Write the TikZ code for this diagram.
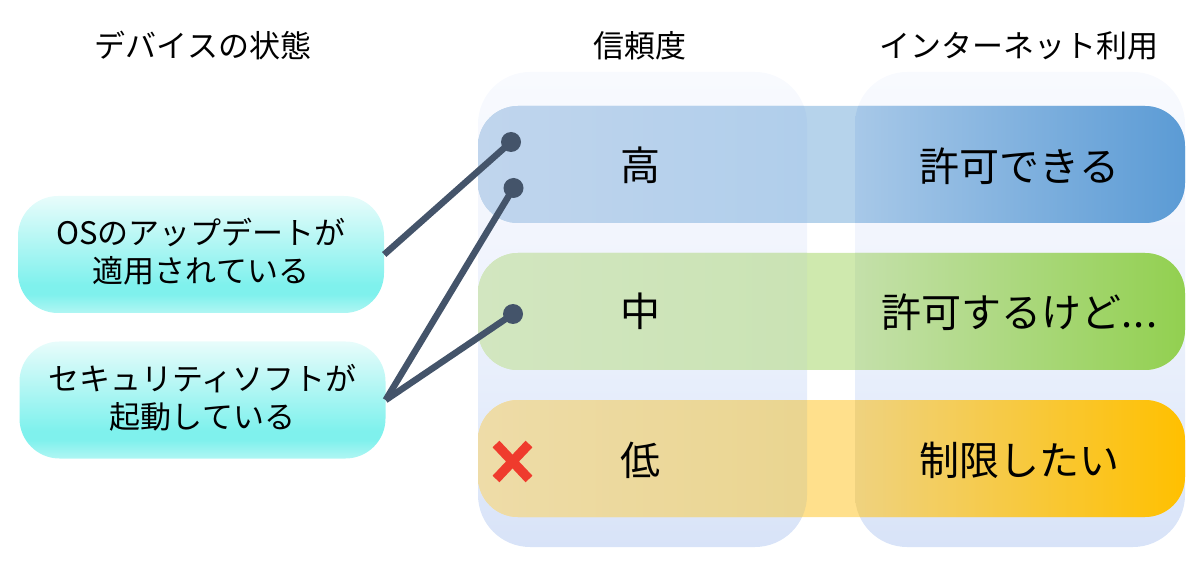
\documentclass[tikz,border=0pt]{standalone}
\usepackage{fontspec}
\setmainfont{Noto Sans CJK JP}
\definecolor{boxtop}{HTML}{E8FCFB}
\definecolor{boxmid}{HTML}{7FF1ED}
\definecolor{boxbot}{HTML}{B0F6F3}
\pgfdeclareverticalshading{boxshade}{100bp}{
  color(0bp)=(boxbot); color(25bp)=(boxbot); color(33bp)=(boxmid); color(37bp)=(boxmid);
  color(75bp)=(boxtop); color(100bp)=(boxtop)}
\definecolor{coltop}{HTML}{F8FAFE}
\definecolor{colmida}{HTML}{F2F5FD}
\definecolor{colmidb}{HTML}{E7EEFB}
\definecolor{colbot}{HTML}{D8E3F8}
\pgfdeclareverticalshading{colshade}{100bp}{
  color(0bp)=(colbot); color(25bp)=(colbot); color(42bp)=(colmidb); color(57.5bp)=(colmida);
  color(75bp)=(coltop); color(100bp)=(coltop)}
\definecolor{wire}{HTML}{44546A}
\definecolor{crossred}{HTML}{EF3B2D}
\definecolor{gapblue}{HTML}{B6D3EB}
\definecolor{gapgreen}{HTML}{CFE9AE}
\definecolor{gaporange}{HTML}{FFE08C}
\tikzset{
  headtext/.style={inner sep=0pt,font=\fontsize{31}{36}\selectfont},
  celltext/.style={inner sep=0pt,font=\fontsize{40}{44}\selectfont},
  statebox/.style={rounded corners=40pt,shading=boxshade,minimum width=366pt,minimum height=117pt,
    inner sep=0pt,align=center,font=\fontsize{31}{38}\selectfont},
  colpanel/.style={shading=colshade,rounded corners=52pt},
  wireline/.style={draw=wire,line width=6.5pt},
  wiredot/.style={circle,fill=wire,inner sep=0pt,minimum size=20pt},
  crossline/.style={draw=crossred,line width=9.5pt}
}
\newcommand{\myrow}[7]{%
  \fill[#3,rounded corners=40pt] (478,#1) rectangle (1185,#2);
  \begin{scope}
    \clip[rounded corners=40pt] (478,#1) rectangle (1185,#2);
    \clip[rounded corners=52pt] (478,72) rectangle (807,547);
    \shade[left color=#4,right color=#5] (478,#1) rectangle (807,#2);
  \end{scope}
  \begin{scope}
    \clip[rounded corners=40pt] (478,#1) rectangle (1185,#2);
    \clip[rounded corners=52pt] (855,72) rectangle (1185,547);
    \shade[left color=#6,right color=#7] (855,#1) rectangle (1185,#2);
  \end{scope}}
\definecolor{ba}{HTML}{C0D5ED}\definecolor{bb}{HTML}{B0CEEB}\definecolor{bc}{HTML}{A7C8E8}\definecolor{bd}{HTML}{5B9BD5}
\definecolor{ga}{HTML}{D2E6C0}\definecolor{gb}{HTML}{CAE3B4}\definecolor{gc}{HTML}{C4E0AA}\definecolor{gd}{HTML}{92D050}
\definecolor{oa}{HTML}{EEDCA8}\definecolor{ob}{HTML}{EAD590}\definecolor{oc}{HTML}{EFD27F}\definecolor{od}{HTML}{FFC000}
\begin{document}
\begin{tikzpicture}[x=1pt,y=-1pt]
\useasboundingbox (0,0) rectangle (1200,561);
\path[colpanel] (478,72) rectangle (807,547);
\path[colpanel] (855,72) rectangle (1185,547);
\myrow{106}{223}{gapblue}{ba}{bb}{bc}{bd}
\myrow{253}{370}{gapgreen}{ga}{gb}{gc}{gd}
\myrow{400}{517}{gaporange}{oa}{ob}{oc}{od}

\node[headtext] (h1) at (203,46) {デバイスの状態};
\node[headtext] (h2) at (639.5,46) {信頼度};
\node[headtext] (h3) at (1018.5,46) {インターネット利用};

\node[statebox] (boxa) at (201,254.5) {OSのアップデートが\\適用されている\\[-30pt]\mbox{}};
\node[statebox] (boxb) at (202.5,400) {セキュリティソフトが\\起動している\\[-30pt]\mbox{}};

\node[celltext] (c1) at (640,165) {高};
\node[celltext] (c2) at (640,311) {中};
\node[celltext] (c3) at (640,460) {低};
\node[celltext] (d1) at (1019.5,166) {許可できる};
\node[celltext] (d2) at (1019.5,312) {許可するけど.\hspace{1pt}.\hspace{1pt}.};
\node[celltext] (d3) at (1019.5,460) {制限したい};

\node[wiredot] (dota) at (511,142) {};
\node[wiredot] (dotb) at (513.5,188) {};
\node[wiredot] (dotc) at (513,314) {};
\draw[wireline] (boxa.east) -- (dota.center);
\draw[wireline] (boxb.east) -- (dotb.center);
\draw[wireline] (boxb.east) -- (dotc.center);

\draw[crossline] (496,444) -- (529,479);
\draw[crossline] (529,444) -- (496,479);
\end{tikzpicture}
\end{document}
